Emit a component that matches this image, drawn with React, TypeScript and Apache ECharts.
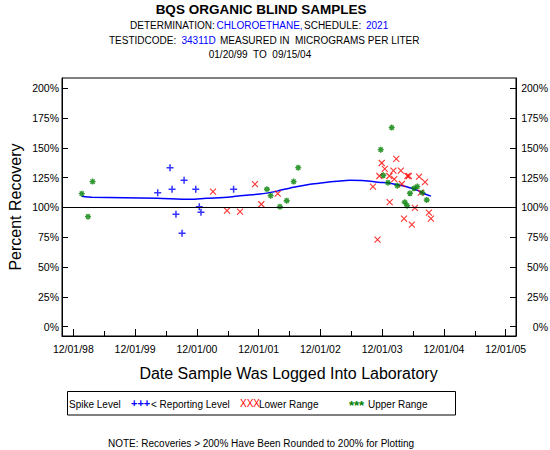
import React, { useEffect, useRef } from "react";
import * as echarts from "echarts";

// ---- data ----
const reportingDates = ["2000-04-13", "2000-06-25", "2000-07-07", "2000-07-30", "2000-09-04", "2000-09-16", "2000-11-24", "2000-12-15", "2000-12-25", "2001-07-06"];
const reportingValues = [112.4, 133.4, 115.3, 94.3, 78.4, 122.8, 115.3, 100.7, 96.0, 115.3];

const lowerDates = ["2001-03-06", "2001-05-28", "2001-08-13", "2001-11-09", "2001-12-17", "2002-03-24",
  "2004-02-23", "2003-11-29", "2003-12-17", "2004-02-06", "2004-03-21", "2003-11-15", "2004-01-13", "2004-04-29", "2004-05-07",
  "2004-07-07", "2004-02-11", "2004-03-27", "2004-08-11", "2003-10-08", "2004-07-17", "2004-01-15", "2004-06-12",
  "2004-09-03", "2004-09-15", "2004-04-09", "2004-05-25", "2003-11-04"];
const lowerValues = [113.3, 97.3, 96.5, 119.5, 102.7, 111.6,
  140.7, 137.3, 132.3, 130.9, 130.9, 126.4, 126.4, 126.4, 126.4,
  125.9, 123.7, 119.7, 121.2, 117.5, 112.4, 104.4, 99.6,
  95.6, 90.6, 90.6, 85.6, 73.0];

const upperDates = ["1999-01-20", "1999-02-26", "1999-03-25", "2002-01-19", "2002-02-10", "2002-04-06", "2002-05-16", "2002-06-26", "2002-07-23",
  "2003-11-23", "2004-01-27", "2003-12-08", "2004-01-05", "2004-02-29", "2004-05-14", "2004-06-07", "2004-06-26", "2004-07-26", "2004-08-21", "2004-04-13", "2004-04-27"];
const upperValues = [111.6, 92.3, 121.7, 115.3, 109.9, 100.7, 105.7, 121.7, 133.4,
  148.5, 167.0, 127.0, 120.8, 118.3, 111.9, 116.1, 117.5, 112.4, 106.3, 104.4, 101.5];

const curveDates = ["1999-01-20", "1999-03-21", "2000-04-09", "2000-10-21", "2001-01-24", "2001-06-15", "2001-08-13", "2001-12-09", "2002-03-08",
  "2002-04-06", "2002-07-04", "2002-10-01", "2002-12-17", "2003-03-10", "2003-05-25", "2003-08-22", "2003-11-07", "2004-01-17", "2004-03-04",
  "2004-05-03", "2004-07-01", "2004-07-31", "2004-09-15"];
const curveValues = [109.4, 108.6, 107.7, 106.9, 107.7, 108.8, 109.9, 111.3, 113.3,
  114.4, 117.2, 119.5, 120.8, 122.0, 122.8, 122.5, 121.2, 120.4, 119.0,
  117.0, 114.1, 111.9, 109.5];

const xTickDates = ["1998-12-01", "1999-12-01", "2000-12-01", "2001-12-01", "2002-12-01", "2003-12-01", "2004-12-01", "2005-12-01"];
const yTickValues = [0, 25, 50, 75, 100, 125, 150, 175, 200];
const xRange = ["1998-09-25", "2006-01-31"];
const yRange = [-7.8, 208.6];
const referenceLevel = 100;

const FONT = "'Liberation Sans', Arial, sans-serif";
const ts = (s: string) => Date.parse(s + "T00:00:00Z");
const pad = (n: number) => (n < 10 ? "0" : "") + n;
const fmtDate = (v: number) => {
  const d = new Date(v);
  return pad(d.getUTCMonth() + 1) + "/" + pad(d.getUTCDate()) + "/" + pad(d.getUTCFullYear() % 100);
};

const PLUS = "path://M5,0L5,10M0,5L10,5";
const CROSS = "path://M0,0L10,10M10,0L0,10";
const STAR = "path://M5,0L5,10M0,5L10,5M1.5,1.5L8.5,8.5M8.5,1.5L1.5,8.5";

const txt = (x: number, y: number, text: string, fill: string, font = `10px ${FONT}`, align = "left") => ({
  type: "text",
  x,
  y,
  style: { text, font, fill, textAlign: align, textVerticalAlign: "middle" },
});

export default function App() {
  const ref = useRef<HTMLDivElement>(null);
  useEffect(() => {
    if (!ref.current) return;
    const chart = echarts.init(ref.current, null, { renderer: "svg" });
    const majors = xTickDates.map(ts);
    const minors: number[] = [];
    for (let i = 0; i < majors.length - 1; i++) minors.push((majors[i] + majors[i + 1]) / 2);
    const xMin = ts(xRange[0]);
    const xMax = ts(xRange[1]);
    const labelStyle = { fontFamily: FONT, fontSize: 10.5, color: "#000" };
    const yAxisBase = {
      type: "value",
      min: yRange[0],
      max: yRange[1],
      splitLine: { show: false },
      axisLine: { show: true, lineStyle: { color: "#000", width: 1 } },
      axisTick: { show: true, inside: true, length: 6, customValues: yTickValues, lineStyle: { color: "#000" } },
    };
    const scatter = (dates: string[], vals: number[], symbol: string, color: string, size: number, bw: number) => ({
      type: "scatter",
      symbol,
      symbolSize: size,
      data: dates.map((d, i) => [ts(d), vals[i]]),
      itemStyle: { color: "transparent", borderColor: color, borderWidth: bw },
      z: 3,
    });
    chart.setOption({
      animation: false,
      backgroundColor: "#fff",
      grid: { left: 62, top: 78, width: 454, height: 258, show: true, borderColor: "#000", borderWidth: 1, containLabel: false, outerBoundsMode: "none" },
      xAxis: [
        {
          type: "value",
          min: xMin,
          max: xMax,
          splitLine: { show: false },
          axisLine: { show: true, onZero: false, lineStyle: { color: "#000" } },
          axisTick: { show: true, inside: true, length: 7, customValues: majors, lineStyle: { color: "#000" } },
          axisLabel: { ...labelStyle, customValues: majors, margin: 7, formatter: (v: number) => fmtDate(v) },
        },
        {
          type: "value",
          position: "bottom",
          min: xMin,
          max: xMax,
          splitLine: { show: false },
          axisLine: { show: false, onZero: false },
          axisTick: { show: true, inside: true, length: 5, customValues: minors, lineStyle: { color: "#000" } },
          axisLabel: { show: false },
        },
      ],
      yAxis: [
        { ...yAxisBase, position: "left", axisLabel: { ...labelStyle, customValues: yTickValues, margin: 3, formatter: (v: number) => v + "%" } },
        { ...yAxisBase, position: "right", axisLabel: { ...labelStyle, customValues: yTickValues, margin: 32, align: "right", formatter: (v: number) => v + "%" } },
      ],
      series: [
        {
          type: "line",
          data: curveDates.map((d, i) => [ts(d), curveValues[i]]),
          smooth: 0.3,
          showSymbol: false,
          lineStyle: { color: "#0000ff", width: 1.5 },
          z: 2,
          markLine: {
            silent: true,
            symbol: ["none", "none"],
            label: { show: false },
            lineStyle: { color: "#000", width: 1, type: "solid" },
            data: [{ yAxis: referenceLevel }],
          },
        },
        scatter(reportingDates, reportingValues, PLUS, "#0000ff", 7, 1.5),
        scatter(lowerDates, lowerValues, CROSS, "#ff0000", 6, 1.1),
        scatter(upperDates, upperValues, STAR, "#008000", 6, 1.4),
      ],
      graphic: [
        txt(261, 9, "BQS ORGANIC BLIND SAMPLES", "#000", `bold 13.5px ${FONT}`, "center"),
        txt(130, 25.5, "DETERMINATION:", "#000"),
        txt(216.5, 25.5, "CHLOROETHANE,", "#0000ff"),
        txt(304, 25.5, "SCHEDULE:", "#000"),
        txt(366, 25.5, "2021", "#0000ff"),
        txt(109, 40, "TESTIDCODE:", "#000"),
        txt(181.5, 40, "34311D", "#0000ff"),
        txt(220, 40, "MEASURED IN  MICROGRAMS PER LITER", "#000"),
        txt(260, 54, "01/20/99  TO  09/15/04", "#000", `10px ${FONT}`, "center"),
        { type: "text", x: 15.5, y: 207, rotation: Math.PI / 2, style: { text: "Percent Recovery", font: `16px ${FONT}`, fill: "#000", textAlign: "center", textVerticalAlign: "middle" } },
        txt(288.5, 373, "Date Sample Was Logged Into Laboratory", "#000", `16px ${FONT}`, "center"),
        { type: "rect", shape: { x: 67.5, y: 391.5, width: 388, height: 23.5 }, style: { fill: "none", stroke: "#000", lineWidth: 1 } },
        txt(69, 404, "Spike Level", "#000"),
        txt(131, 403, "+++", "#0000ff", `bold 11px ${FONT}`),
        txt(151, 404, "< Reporting Level", "#000"),
        txt(240, 403, "XXX", "#ff0000"),
        txt(259, 404, "Lower Range", "#000"),
        txt(349, 405, "***", "#008000", `bold 13px ${FONT}`),
        txt(368, 404, "Upper Range", "#000"),
        txt(261, 443, "NOTE: Recoveries > 200% Have Been Rounded to 200% for Plotting", "#000", `10px ${FONT}`, "center"),
      ],
    });
    return () => chart.dispose();
  }, []);
  return <div ref={ref} style={{ position: "fixed", left: 0, top: 0, width: 550, height: 450 }} />;
}
